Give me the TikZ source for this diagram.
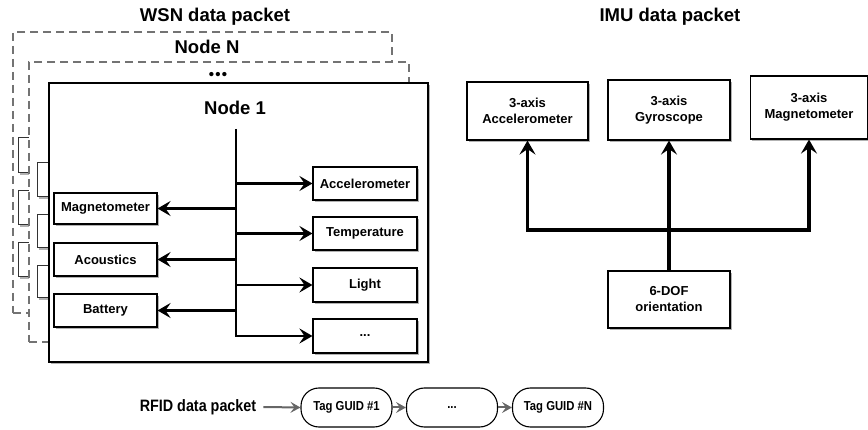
\documentclass[tikz,border=0pt]{standalone}
\usepackage{fontspec}
\setmainfont{Liberation Sans}
\newfontfamily\narrowfont[FakeStretch=0.87]{Liberation Sans}
\usetikzlibrary{arrows.meta,shadows}
\tikzset{
  pshadow/.style={drop shadow={shadow xshift=1.8pt,shadow yshift=-1.8pt,fill=black,opacity=0.3}},
  box/.style={draw=black,line width=1.1pt,fill=white,pshadow,inner sep=0pt,
    font=\fontsize{13}{16}\selectfont\bfseries,align=center},
  frame/.style={draw=black,line width=1.1pt,fill=white,inner sep=0pt},
  ghostframe/.style={frame,draw=black!55,dash pattern=on 8pt off 5pt},
  ghostbox/.style={draw=black!80,line width=1pt,fill=white,pshadow,inner sep=0pt},
  titletext/.style={font=\fontsize{18.5}{20}\selectfont\bfseries,inner sep=0pt},
  wline/.style={line width=2.6pt,line join=miter},
  warrow/.style={wline,-{Stealth[length=13pt,width=15pt,inset=5pt]}},
  iarrow/.style={line width=3.4pt,line join=miter,-{Stealth[length=14pt,width=16pt,inset=5.5pt]}},
  rarrow/.style={draw=black!60,line width=2pt,-{Stealth[length=10pt,width=11pt,inset=4pt]}},
  tag/.style={draw=black,line width=1.1pt,fill=white,rounded corners=18pt,inner sep=0pt,
    minimum width=91pt,minimum height=39pt,font=\narrowfont\fontsize{13}{15}\selectfont\bfseries}
}
\begin{document}
\begin{tikzpicture}[x=1pt,y=-1pt]
\useasboundingbox (0,0) rectangle (868,430);

% ---------------- WSN data packet ----------------
\node[titletext] (wsntitle) at (215,17) {WSN data packet};

% Node N (rearmost layer)
\node[ghostframe,minimum width=379pt,minimum height=281pt] (nN) at (202.5,172.5) {};
\node[titletext] (nNtitle) at (207,47) {Node N};
\node[ghostbox,minimum width=103pt,minimum height=35pt] (nNa) at (69.5,155.5) {};
\node[ghostbox,minimum width=103pt,minimum height=34pt] (nNb) at (69.5,208) {};
\node[ghostbox,minimum width=103pt,minimum height=34pt] (nNc) at (69.5,260) {};

% intermediate layer
\node[ghostframe,minimum width=380pt,minimum height=280pt] (nD) at (219,202) {};
\node[inner sep=0pt,font=\fontsize{15}{16}\selectfont\bfseries] (nDtitle) at (218,76)
  {\textbullet\kern1.2pt\textbullet\kern1.2pt\textbullet};
\node[ghostbox,minimum width=103pt,minimum height=34pt] (nDa) at (88.5,180) {};
\node[ghostbox,minimum width=103pt,minimum height=33pt] (nDb) at (88.5,231.5) {};
\node[ghostbox,minimum width=103pt,minimum height=32pt] (nDc) at (88.5,282) {};

% Node 1 (front layer)
\node[frame,pshadow,minimum width=379pt,minimum height=279pt] (n1) at (238.5,222.5) {};
\node[titletext] (n1title) at (235,108) {Node 1};

\node[box,minimum width=103pt,minimum height=31pt] (wmag) at (105.5,208.5) {Magnetometer};
\node[box,minimum width=103pt,minimum height=33pt] (wacs) at (105.5,259.5) {Acoustics};
\node[box,minimum width=103pt,minimum height=33pt] (wbat) at (105.5,310.5) {Battery};

\node[box,minimum width=104pt,minimum height=33pt] (wacc) at (365,183.5) {Accelerometer};
\node[box,minimum width=104pt,minimum height=33pt] (wtmp) at (365,233.5) {Temperature};
\node[box,minimum width=104pt,minimum height=34pt] (wlig) at (365,285) {Light};
\node[box,minimum width=104pt,minimum height=34pt] (wdot) at (365,336) {...};

\coordinate (spine) at (236,129);
\draw[warrow] (spine) -- (spine |- wdot.west) -- (wdot.west);
\draw[warrow] (spine |- wacc.west) -- (wacc.west);
\draw[warrow] (spine |- wtmp.west) -- (wtmp.west);
\draw[warrow] (spine |- wlig.west) -- (wlig.west);
\draw[warrow] (spine |- wmag.east) -- (wmag.east);
\draw[warrow] (spine |- wacs.east) -- (wacs.east);
\draw[warrow] (spine |- wbat.east) -- (wbat.east);

% ---------------- IMU data packet ----------------
\node[titletext] (imutitle) at (670,17) {IMU data packet};
\node[box,minimum width=121pt,minimum height=58pt] (iacc) at (527.5,111) {3-axis\\Accelerometer};
\node[box,minimum width=122pt,minimum height=60pt] (igyr) at (669,110) {3-axis\\Gyroscope};
\node[box,minimum width=117pt,minimum height=63pt] (imag) at (809,107.5) {3-axis\\Magnetometer};
\node[box,minimum width=122pt,minimum height=57pt] (idof) at (669,299.5) {6-DOF\\orientation};

\coordinate (bus) at (669,230);
\draw[iarrow] (idof.north) -- (igyr.south);
\draw[iarrow] (bus) -| (iacc.south);
\draw[iarrow] (bus) -| (imag.south);

% ---------------- RFID data packet ----------------
\node[inner sep=0pt,font=\narrowfont\fontsize{16.5}{18}\selectfont\bfseries] (rfid) at (198,407) {RFID data packet};
\node[tag] (tag1) at (346.5,407.5) {Tag GUID \#1};
\node[tag] (tagd) at (452,407.5) {...};
\node[tag] (tagn) at (558,407.5) {Tag GUID \#N};
\draw[rarrow] ([xshift=7pt]rfid.east) -- (tag1.west);
\draw[rarrow] (tag1.east) -- (tagd.west);
\draw[rarrow] (tagd.east) -- (tagn.west);
\end{tikzpicture}
\end{document}
